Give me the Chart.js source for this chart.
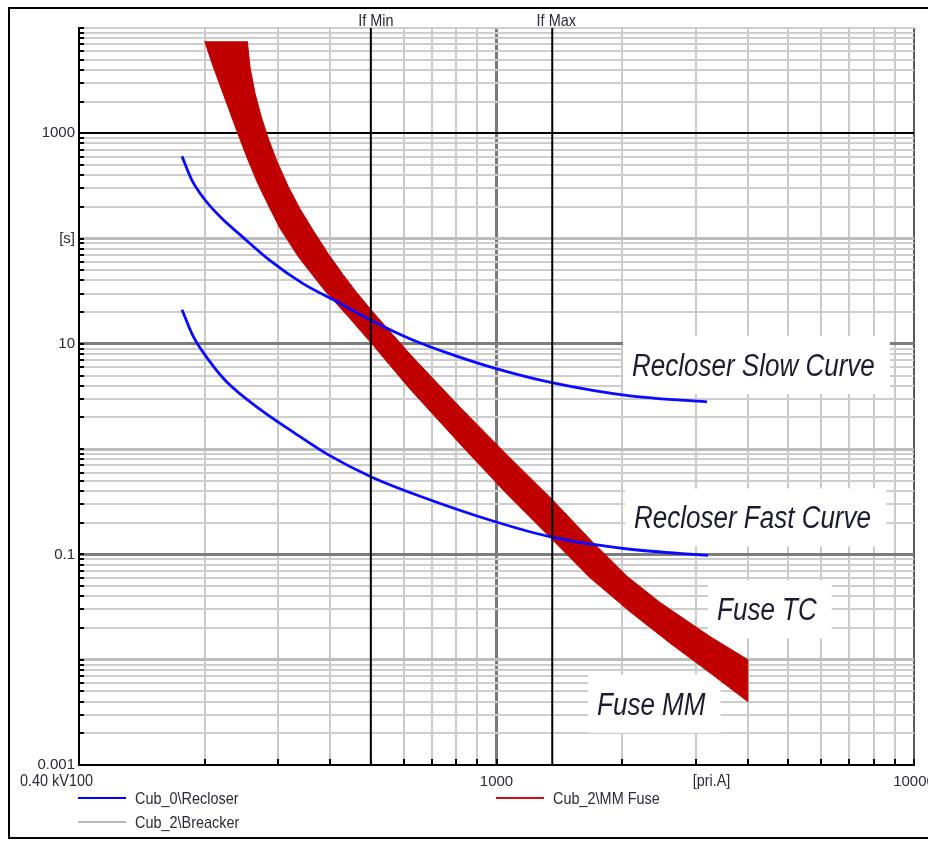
<!DOCTYPE html>
<html>
<head>
<meta charset="utf-8">
<script src="https://cdn.jsdelivr.net/npm/chart.js@4/dist/chart.umd.min.js"></script>
<style>
html,body{margin:0;padding:0;background:#fff;width:928px;height:841px;overflow:hidden;}
#wrap{position:relative;width:928px;height:841px;}
#c{position:absolute;left:0;top:0;}
#frame{position:absolute;left:8px;top:7px;width:960px;height:832px;border:2px solid #000;box-sizing:border-box;pointer-events:none;}
.lgl{position:absolute;height:2px;width:48px;}
.lgt{position:absolute;font-family:'Liberation Sans',Arial,sans-serif;font-size:17px;line-height:20px;color:#2a2a38;white-space:nowrap;transform:scale(0.85,1);transform-origin:0 50%;}
</style>
</head>
<body>
<div id="wrap">
<canvas id="c" width="928" height="841"></canvas>
<div id="frame"></div>
<div class="lgl" style="left:78px;top:797px;background:#0000ff;"></div>
<div class="lgt" style="left:135px;top:789px;">Cub_0\Recloser</div>
<div class="lgl" style="left:78px;top:821px;background:#b8b8b8;"></div>
<div class="lgt" style="left:135px;top:813px;">Cub_2\Breacker</div>
<div class="lgl" style="left:496px;top:797px;background:#d01010;"></div>
<div class="lgt" style="left:553px;top:789px;">Cub_2\MM Fuse</div>
</div>
<script>
// ---- axis ranges ----
const xMin = 100, xMax = 10000;
const yMin = 0.001, yMax = 10000;

// ---- tick labels ----
const xLabelValues = [1000, 10000];
const xLabels = ['1000', '10000'];
const yLabelValues = [1000, 100, 10, 0.1, 0.001];
const yLabels = ['1000', '[s]', '10', '0.1', '0.001'];
const xUnitLabel = '[pri.A]';
const xOriginLabel = '0.40 kV100';

// ---- fault current markers (A) ----
const ifMin = 500;
const ifMax = 1360;

// ---- Recloser slow curve (current A, time s) ----
const slowCurrent = [176.5, 186.5, 200, 220, 243, 287, 344, 415, 503, 620, 774, 1003, 1366, 2088, 3193];
const slowTime    = [604, 357, 235, 155, 109, 61.7, 37.3, 25.1, 16.6, 11.2, 8.03, 5.78, 4.25, 3.20, 2.81];

// ---- Recloser fast curve ----
const fastCurrent = [176.5, 187.5, 206, 226, 271, 326, 393, 503, 656, 1003, 1366, 2088, 3211];
const fastTime    = [21.1, 11.9, 6.74, 4.34, 2.40, 1.45, 0.896, 0.541, 0.357, 0.202, 0.145, 0.112, 0.098];

// ---- Fuse minimum melt (MM) edge ----
const mmCurrent = [200, 209, 219, 229, 239, 253, 268, 285, 303, 335, 388, 446, 503, 620, 818, 1060, 1358, 1675, 2088, 2633, 3246, 4000];
const mmTime    = [7500, 4440, 2680, 1656, 1045, 578, 334, 202, 125, 67.4, 32.0, 17.3, 10.0, 3.73, 1.12, 0.373, 0.139, 0.060, 0.0286, 0.0139, 0.0075, 0.0040];

// ---- Fuse total clearing (TC) edge ----
const tcCurrent = [253, 257, 264, 273, 284, 298, 317, 338, 364, 395, 429, 463, 503, 620, 818, 1060, 1358, 1702, 2054, 2464, 3246, 4000];
const tcTime    = [7500, 4160, 2404, 1452, 896, 541, 313, 193, 119, 72.0, 45.4, 30.6, 20.6, 8.0, 2.5, 0.88, 0.334, 0.130, 0.062, 0.035, 0.0166, 0.010];

// ---- annotations (anchored in data space: left x, centre y) ----
const annoText = ['Recloser Slow Curve', 'Recloser Fast Curve', 'Fuse TC', 'Fuse MM'];
const annoX    = [2112, 2135, 3375, 1741];
const annoY    = [6.17, 0.220, 0.0293, 0.00373];

const toPts = (xs, ys) => xs.map((v, i) => ({x: v, y: ys[i]}));
const bandPts = toPts(mmCurrent, mmTime).concat(toPts(tcCurrent, tcTime).reverse());

const near = (v, t) => Math.abs(Math.log10(v) - Math.log10(t)) < 1e-6;
const decadeTicks = (lo, hi) => {
  const out = [];
  for (let e = Math.round(Math.log10(lo)); e <= Math.round(Math.log10(hi)); e++) {
    for (let m = 1; m <= 9; m++) {
      const v = m * Math.pow(10, e);
      if (v >= lo * 0.999 && v <= hi * 1.001) out.push({value: v});
    }
  }
  return out;
};
const FONT = "'Liberation Sans',Arial,sans-serif";
const TXT = '#2a2a38';

const yGrid = (v) => {
  if (near(v, 1000)) return ['#000000', 2];
  if (near(v, 10) || near(v, 0.1)) return ['#7c7c7c', 3];
  if (near(v, 100) || near(v, 1) || near(v, 0.01)) return ['#bdbdbd', 3];
  return ['#cdcdcd', 2];
};
const xGrid = (v) => {
  if (near(v, 1000)) return ['#7a7a7a', 3];
  if (near(v, 10000)) return ['#5a5a5a', 2];
  if (near(v, 100)) return ['#000000', 2];
  return ['#c9c9c9', 2];
};

const drawNarrow = (ctx, text, x, y, align) => {
  ctx.save();
  ctx.translate(x, y);
  ctx.scale(0.85, 1);
  ctx.textAlign = align;
  ctx.fillText(text, 0, 0);
  ctx.restore();
};

const overlay = {
  id: 'overlay',
  beforeDatasetsDraw(chart) {
    const {ctx, scales: {x, y}} = chart;
    ctx.save();
    ctx.font = "italic 26px 'Liberation Sans', Arial, sans-serif";
    for (let i = 0; i < annoText.length; i++) {
      const px = x.getPixelForValue(annoX[i]);
      const py = y.getPixelForValue(annoY[i]);
      const w = ctx.measureText(annoText[i]).width;
      ctx.fillStyle = '#ffffff';
      ctx.fillRect(px - 9, py - 30, w + 24, 58);
      ctx.save();
      ctx.translate(px, py);
      ctx.scale(1, 1.2);
      ctx.fillStyle = '#1c1c30';
      ctx.textBaseline = 'middle';
      ctx.textAlign = 'left';
      ctx.fillText(annoText[i], 0, 1);
      ctx.restore();
    }
    ctx.restore();
  },
  afterDraw(chart) {
    const {ctx, scales: {x, y}, chartArea: a} = chart;
    ctx.save();
    ctx.strokeStyle = '#000';
    ctx.lineWidth = 2;
    ctx.beginPath();
    y.ticks.forEach(t => { const py = Math.round(y.getPixelForValue(t.value)); ctx.moveTo(a.left, py); ctx.lineTo(a.left + 5, py); });
    x.ticks.forEach(t => { const px = Math.round(x.getPixelForValue(t.value)); ctx.moveTo(px, a.bottom); ctx.lineTo(px, a.bottom - 6); });
    ctx.stroke();
    ctx.fillStyle = TXT;
    ctx.font = '17px ' + FONT;
    ctx.textBaseline = 'middle';
    drawNarrow(ctx, 'If Min', x.getPixelForValue(ifMin) + 5, 21, 'center');
    drawNarrow(ctx, 'If Max', x.getPixelForValue(ifMax) + 4, 21, 'center');
    drawNarrow(ctx, xUnitLabel, a.left + (a.right - a.left) * 0.7575, 781, 'center');
    drawNarrow(ctx, xOriginLabel, a.left + 14, 781, 'right');
    ctx.restore();
  }
};

new Chart(document.getElementById('c'), {
  type: 'scatter',
  data: {
    datasets: [
      {label: 'If Min', data: [{x: ifMin, y: yMin}, {x: ifMin, y: yMax}], showLine: true, borderColor: '#000', borderWidth: 2, pointRadius: 0},
      {label: 'If Max', data: [{x: ifMax, y: yMin}, {x: ifMax, y: yMax}], showLine: true, borderColor: '#000', borderWidth: 2, pointRadius: 0},
      {label: 'Cub_0\\Recloser slow', data: toPts(slowCurrent, slowTime), showLine: true, borderColor: '#0a0aff', borderWidth: 2.8, pointRadius: 0, cubicInterpolationMode: 'monotone'},
      {label: 'Cub_0\\Recloser fast', data: toPts(fastCurrent, fastTime), showLine: true, borderColor: '#0a0aff', borderWidth: 2.8, pointRadius: 0, cubicInterpolationMode: 'monotone'},
      {label: 'Cub_2\\MM Fuse', data: bandPts, showLine: true, borderColor: '#c00000', backgroundColor: '#c00000', borderWidth: 1, pointRadius: 0, tension: 0, fill: 'shape'}
    ]
  },
  options: {
    responsive: false,
    animation: false,
    events: [],
    layout: {padding: {left: 0, top: 28, right: 14, bottom: 0}},
    plugins: {legend: {display: false}, tooltip: {enabled: false}},
    scales: {
      x: {
        type: 'logarithmic', min: xMin, max: xMax,
        afterBuildTicks: s => { s.ticks = decadeTicks(xMin, xMax); },
        afterFit: s => { s.height = 76; s.paddingLeft = 0; s.paddingRight = 0; },
        border: {display: true, color: '#000', width: 2},
        grid: {
          drawTicks: false,
          color: c => xGrid(c.tick.value)[0],
          lineWidth: c => xGrid(c.tick.value)[1]
        },
        ticks: {
          autoSkip: false, maxRotation: 0, padding: 8, color: TXT,
          font: {family: FONT, size: 15},
          callback: v => { const i = xLabelValues.findIndex(t => near(v, t)); return i >= 0 ? xLabels[i] : ''; }
        }
      },
      y: {
        type: 'logarithmic', min: yMin, max: yMax,
        afterBuildTicks: s => { s.ticks = decadeTicks(yMin, yMax); },
        afterFit: s => { s.width = 79; },
        border: {display: true, color: '#000', width: 2},
        grid: {
          drawTicks: false,
          color: c => yGrid(c.tick.value)[0],
          lineWidth: c => yGrid(c.tick.value)[1]
        },
        ticks: {
          autoSkip: false, padding: 4, color: TXT,
          font: {family: FONT, size: 15},
          callback: v => { const i = yLabelValues.findIndex(t => near(v, t)); return i >= 0 ? yLabels[i] : ''; }
        }
      }
    }
  },
  plugins: [overlay]
});
</script>
</body>
</html>
